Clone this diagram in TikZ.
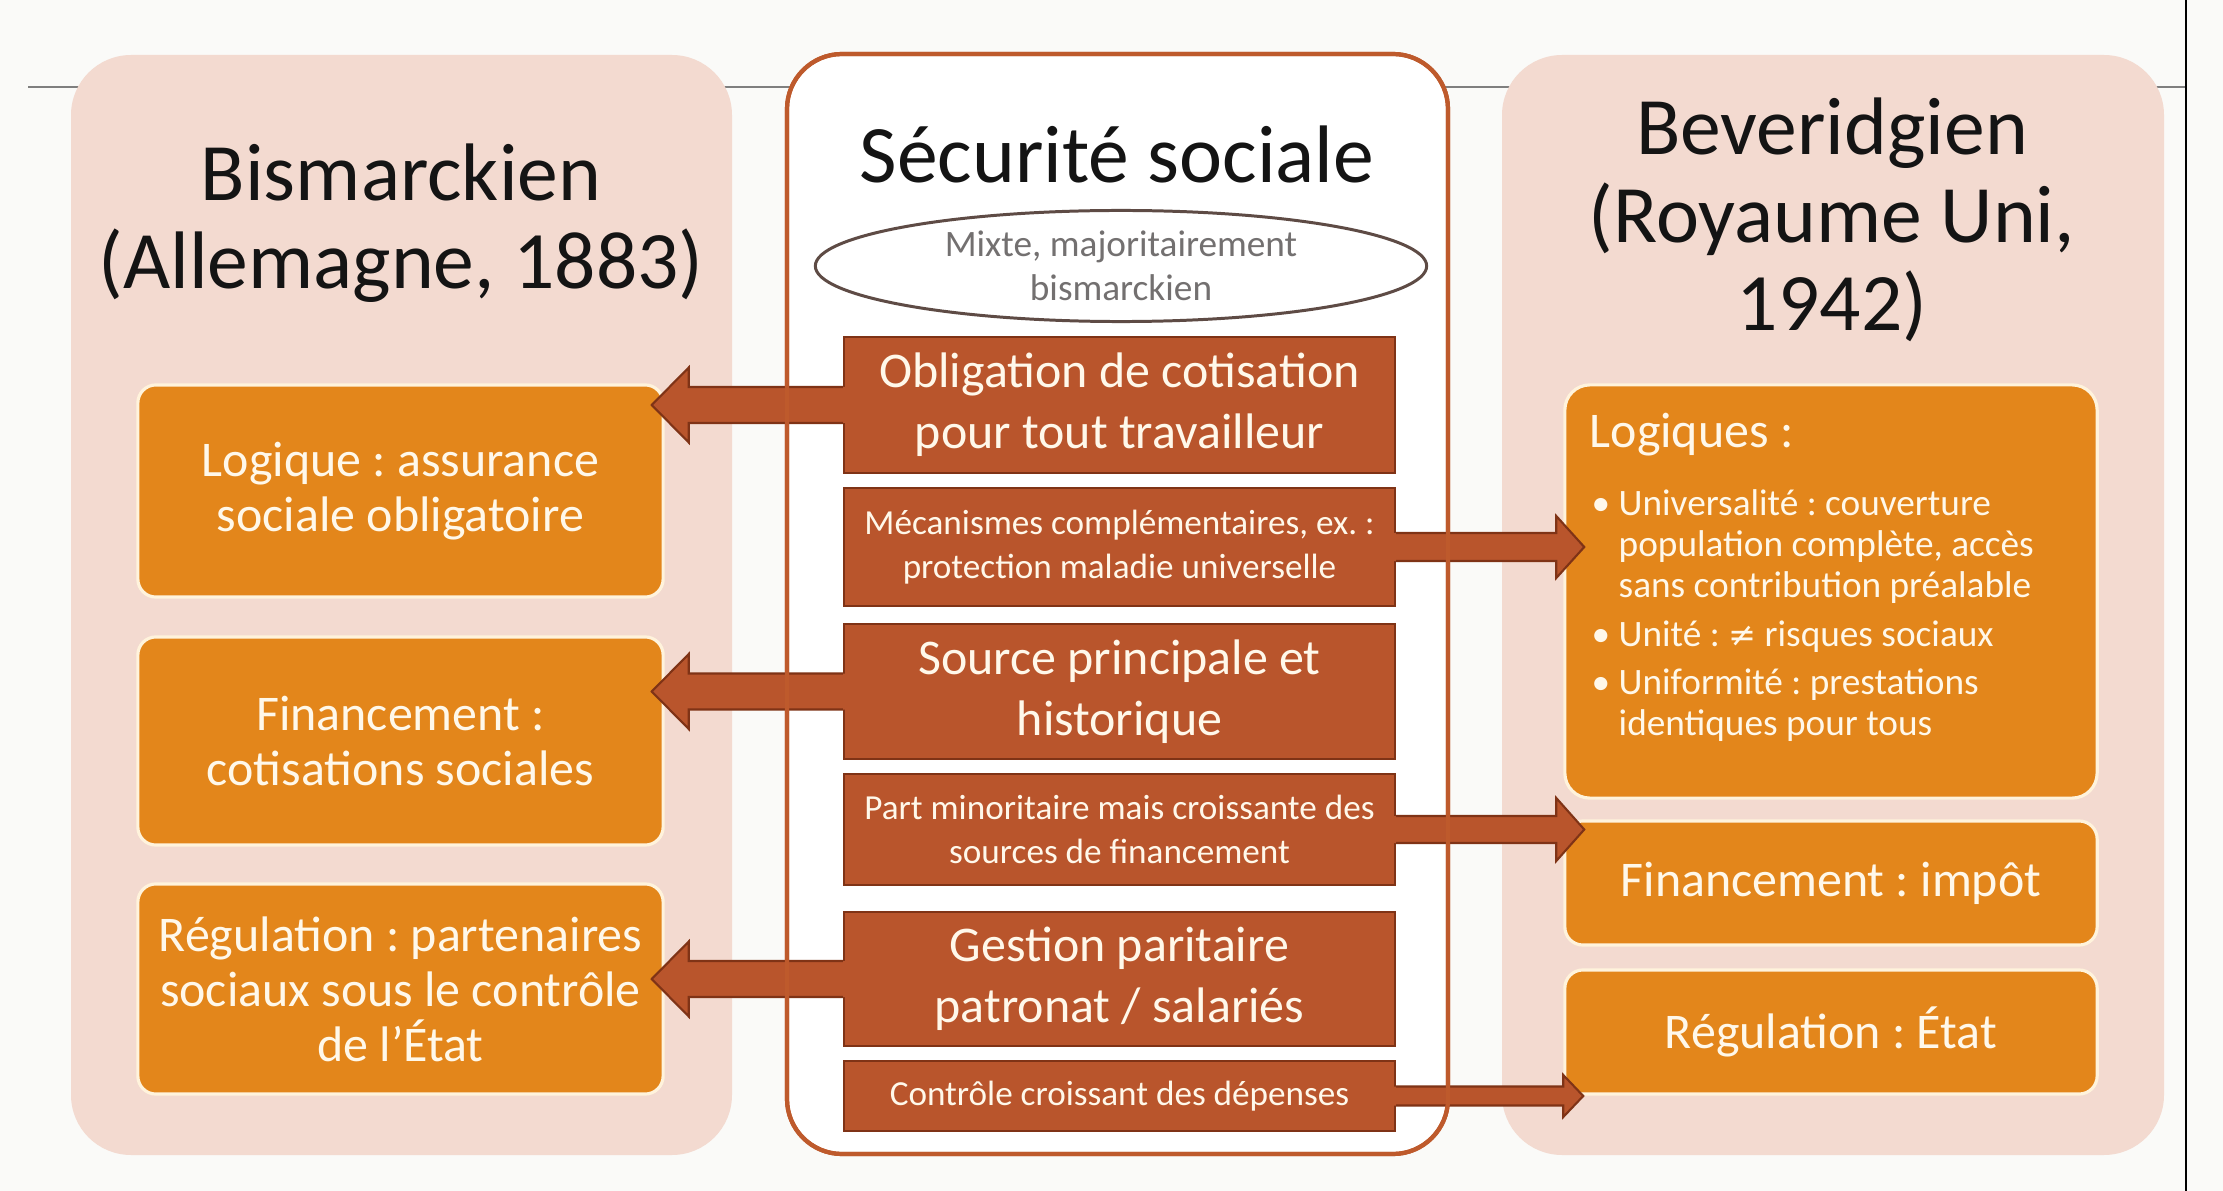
\documentclass[tikz,border=0pt]{standalone}
\usepackage{fontspec}
\setmainfont{Carlito}
\newfontfamily\symbfont{DejaVu Sans}
\usetikzlibrary{shapes.geometric}
\usetikzlibrary{calc}
\frenchspacing

\definecolor{pagebg}{HTML}{FAFAF8}
\definecolor{rulegray}{HTML}{7F7F7F}
\definecolor{panelpink}{HTML}{F3DAD0}
\definecolor{panelrim}{HTML}{BE5A2C}
\definecolor{boxorange}{HTML}{E3861B}
\definecolor{boxrim}{HTML}{FFF3DC}
\definecolor{boxbrown}{HTML}{B9552C}
\definecolor{brownedge}{HTML}{7F3316}
\definecolor{boxtext}{HTML}{FFF8EA}
\definecolor{ovalrim}{HTML}{5E4B45}
\definecolor{ovaltext}{HTML}{737070}

% block arrow: start, target, tip offset, shaft half, head half, head length (signed)
\newcommand{\blockarrow}[6]{%
  \fill[boxbrown] ($(#1)+({0.1*(#6)},{-#4})$) -- ($(#2 |- #1)+({#3+(#6)},{-#4})$)
    -- ($(#2 |- #1)+({#3+(#6)},{-#5})$) -- ($(#2 |- #1)+({#3},0)$)
    -- ($(#2 |- #1)+({#3+(#6)},{#5})$) -- ($(#2 |- #1)+({#3+(#6)},{#4})$)
    -- ($(#1)+({0.1*(#6)},{#4})$) -- cycle;
  \draw[brownedge, line width=0.6pt, line join=miter]
    ($(#1)+(0,{-#4})$) -- ($(#2 |- #1)+({#3+(#6)},{-#4})$)
    -- ($(#2 |- #1)+({#3+(#6)},{-#5})$) -- ($(#2 |- #1)+({#3},0)$)
    -- ($(#2 |- #1)+({#3+(#6)},{#5})$) -- ($(#2 |- #1)+({#3+(#6)},{#4})$)
    -- ($(#1)+(0,{#4})$);}

\newcommand{\bul}{\makebox[0.22cm][l]{\hspace{-0.05cm}•}}
\newcommand{\ind}{\hspace*{0.22cm}}

\begin{document}
\begin{tikzpicture}
  [x=0.01cm, y=-0.01cm,
   headtext/.style = {align=center, inner sep=0, text=black!92,
                      font=\fontsize{23.2}{25}\selectfont},
   oval/.style = {ellipse, draw=ovalrim, line width=0.85pt, fill=white,
                  minimum width=6.11cm, minimum height=1.11cm, inner sep=0,
                  align=center, text=ovaltext, font=\fontsize{10.6}{12.5}\selectfont},
   brownbig/.style = {rectangle, fill=boxbrown, draw=brownedge, line width=0.6pt,
                      minimum width=5.51cm, inner sep=0, align=center, text=boxtext,
                      font=\fontsize{14.2}{17.4}\selectfont},
   brownsmall/.style = {brownbig, font=\fontsize{10}{12.5}\selectfont},
   orangebox/.style = {rectangle, rounded corners=0.18cm, fill=boxorange, draw=boxrim,
                       line width=0.9pt, minimum width=5.25cm, inner sep=0,
                       align=center, text=boxtext, font=\fontsize{14.2}{15.6}\selectfont},
   listtext/.style = {align=left, inner sep=0, text=boxtext,
                      font=\fontsize{10.6}{11.7}\selectfont}]
  \useasboundingbox (0,0) rectangle (2223,1191);
  \fill[pagebg] (0,0) rectangle (2223,1191);
  \draw[rulegray, line width=0.6pt] (28,87) -- (2186,87);
  \draw[black, line width=0.8pt] (2186,0) -- (2186,1191);

  % columns
  \fill[panelpink, rounded corners=0.6cm] (71,55) rectangle (732,1155);
  \fill[panelpink, rounded corners=0.6cm] (1502,55) rectangle (2164,1155);
  \filldraw[fill=white, draw=panelrim, line width=1.2pt, rounded corners=0.55cm]
    (787,54) rectangle (1448,1154);

  \node[headtext] (bism) at (401,223) {Bismarckien\\(Allemagne, 1883)};
  \node[headtext] (secu) at (1117,154) {Sécurité sociale};
  \node[headtext] (bev) at (1832,220) {Beveridgien\\(Royaume Uni,\\1942)};

  \node[oval] (mixte) at (1121,266) {Mixte, majoritairement\\bismarckien};

  % centre column
  \node[brownbig, minimum height=1.36cm] (oblig) at (1119.5,405)
    {Obligation de cotisation\\pour tout travailleur};
  \node[brownsmall, minimum height=1.18cm] (meca) at (1119.5,547)
    {Mécanismes complémentaires, ex. :\\protection maladie universelle};
  \node[brownbig, minimum height=1.35cm] (source) at (1119.5,691.5)
    {Source principale et\\historique};
  \node[brownsmall, minimum height=1.11cm] (part) at (1119.5,829.5)
    {Part minoritaire mais croissante des\\sources de financement};
  \node[brownbig, minimum height=1.34cm] (gestion) at (1119.5,979)
    {Gestion paritaire\\patronat / salariés};
  \node[brownsmall, minimum height=0.70cm] (controle) at (1119.5,1096)
    {Contrôle croissant des dépenses};

  % left column
  \node[orangebox, minimum height=2.12cm] (logb) at (400.5,491)
    {Logique : assurance\\sociale obligatoire};
  \node[orangebox, minimum height=2.08cm] (finb) at (400.5,741)
    {Financement :\\cotisations sociales};
  \node[orangebox, minimum height=2.10cm] (regb) at (400.5,989)
    {Régulation : partenaires\\sociaux sous le contrôle\\de l’État};

  % right column
  \node[orangebox, rounded corners=0.25cm, minimum width=5.32cm, minimum height=4.13cm]
    (logr) at (1831,591.5) {};
  \node[listtext, anchor=base west, font=\fontsize{14.2}{17}\selectfont]
    (logrhead) at (1589,448) {Logiques :};
  \node[listtext, anchor=north west] (logrlist) at (1596,489)
    {\bul Universalité : couverture\\
     \ind population complète, accès\\
     \ind sans contribution préalable\\[2pt]
     \bul Unité : {\symbfont\fontsize{9.5}{11.7}\selectfont ≠} risques sociaux\\[2pt]
     \bul Uniformité : prestations\\
     \ind identiques pour tous};
  \node[orangebox, minimum width=5.32cm, minimum height=1.24cm] (finr) at (1831,883)
    {Financement : impôt};
  \node[orangebox, minimum width=5.32cm, minimum height=1.24cm] (regr) at (1831,1032)
    {Régulation : État};

  % arrows
  \blockarrow{oblig.west}{logb.east}{-13}{18}{37.5}{37}
  \blockarrow{source.west}{finb.east}{-13}{18}{37.5}{37}
  \blockarrow{gestion.west}{regb.east}{-13}{18}{37.5}{37}
  \blockarrow{meca.east}{logr.west}{21}{14}{31}{-28}
  \blockarrow{part.east}{finr.west}{21}{13.5}{31.5}{-28}
  \blockarrow{controle.east}{regr.west}{20}{9.5}{21}{-20}

  \draw[panelrim, line width=1.2pt, rounded corners=0.55cm] (787,54) rectangle (1448,1154);
\end{tikzpicture}
\end{document}
